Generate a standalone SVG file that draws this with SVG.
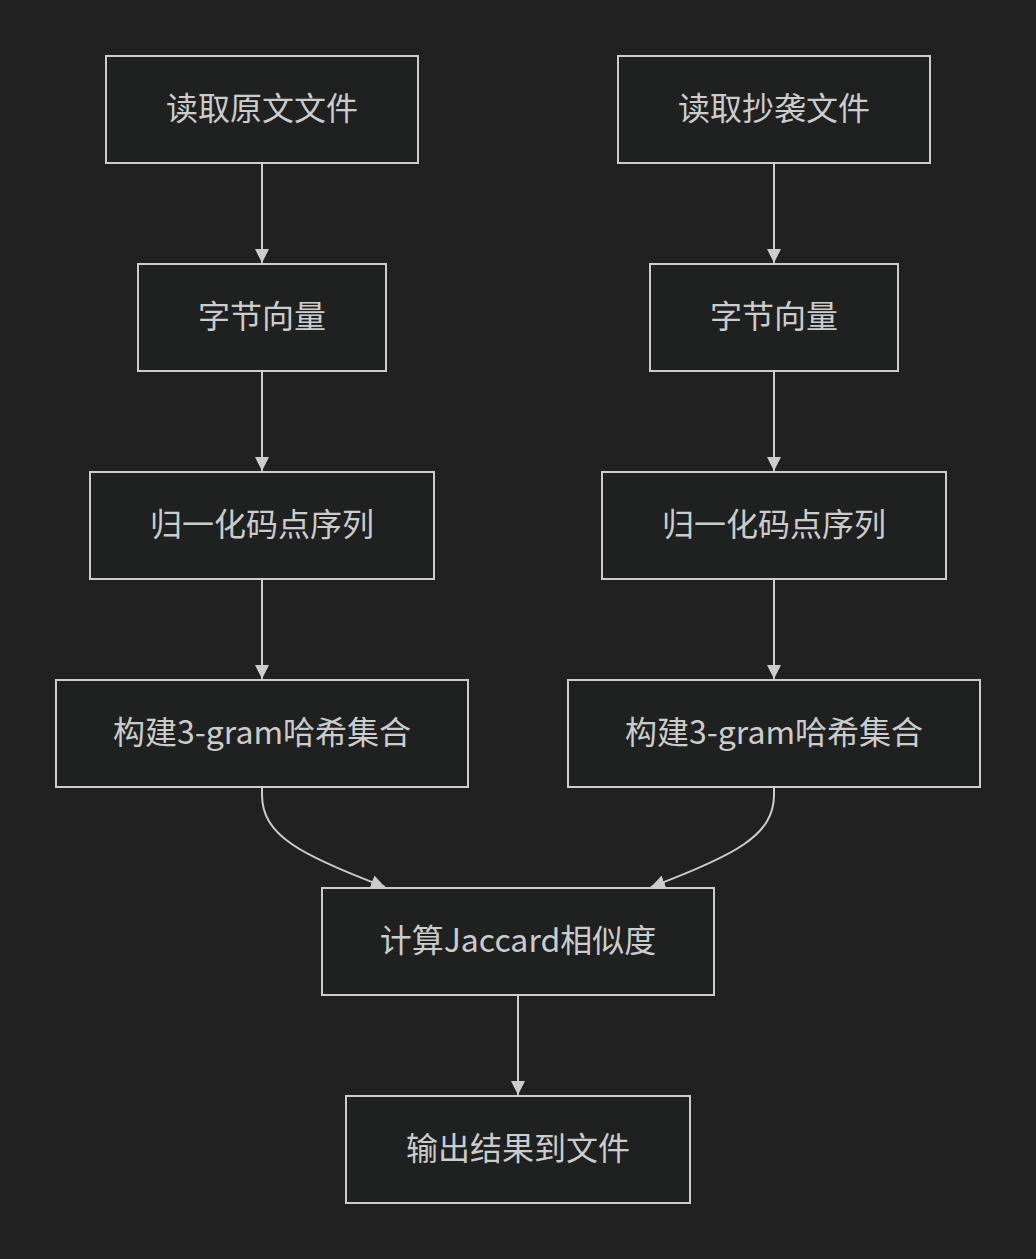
<svg xmlns="http://www.w3.org/2000/svg" width="1036" height="1259" viewBox="0 0 1036 1259">
<style>
.node rect{fill:#1f2020;stroke:#cccccc;stroke-width:2}
.node text{fill:#cccccc;font-family:"Noto Sans CJK SC","Noto Sans",sans-serif;font-size:32px;text-anchor:middle;dominant-baseline:central}
.edge{fill:none;stroke:#cccccc;stroke-width:2}
</style>
<defs>
<marker id="arrow" viewBox="0 0 10 10" refX="10" refY="5" markerUnits="userSpaceOnUse" markerWidth="14" markerHeight="14" orient="auto">
<path d="M0,0 L10,5 L0,10 z" fill="#cccccc"/>
</marker>
</defs>
<rect width="1036" height="1259" fill="#212121"/>
<g id="connectors">
<path class="edge" d="M262,164 L262,263" marker-end="url(#arrow)"/>
<path class="edge" d="M262,372 L262,471" marker-end="url(#arrow)"/>
<path class="edge" d="M262,580 L262,679" marker-end="url(#arrow)"/>
<path class="edge" d="M774,164 L774,263" marker-end="url(#arrow)"/>
<path class="edge" d="M774,372 L774,471" marker-end="url(#arrow)"/>
<path class="edge" d="M774,580 L774,679" marker-end="url(#arrow)"/>
<path class="edge" d="M262,788 L262,795 C262,835 300,855 385,887" marker-end="url(#arrow)"/>
<path class="edge" d="M774,788 L774,795 C774,835 736,855 651,887" marker-end="url(#arrow)"/>
<path class="edge" d="M518,996 L518,1095" marker-end="url(#arrow)"/>
</g>
<g id="a1" class="node"><rect x="106" y="56" width="312" height="107"/><text x="262" y="106">读取原文文件</text></g>
<g id="a2" class="node"><rect x="138" y="264" width="248" height="107"/><text x="262" y="314">字节向量</text></g>
<g id="a3" class="node"><rect x="90" y="472" width="344" height="107"/><text x="262" y="522">归一化码点序列</text></g>
<g id="a4" class="node"><rect x="56" y="680" width="412" height="107"/><text x="262" y="730">构建3-gram哈希集合</text></g>
<g id="b1" class="node"><rect x="618" y="56" width="312" height="107"/><text x="774" y="106">读取抄袭文件</text></g>
<g id="b2" class="node"><rect x="650" y="264" width="248" height="107"/><text x="774" y="314">字节向量</text></g>
<g id="b3" class="node"><rect x="602" y="472" width="344" height="107"/><text x="774" y="522">归一化码点序列</text></g>
<g id="b4" class="node"><rect x="568" y="680" width="412" height="107"/><text x="774" y="730">构建3-gram哈希集合</text></g>
<g id="c" class="node"><rect x="322" y="888" width="392" height="107"/><text x="518" y="938">计算Jaccard相似度</text></g>
<g id="d" class="node"><rect x="346" y="1096" width="344" height="107"/><text x="518" y="1146">输出结果到文件</text></g>
</svg>
